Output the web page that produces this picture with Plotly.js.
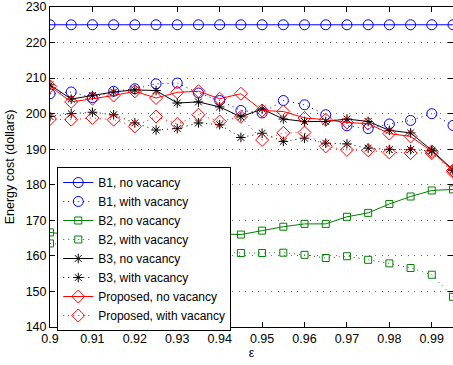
<!DOCTYPE html>
<html>
<head>
<meta charset="utf-8">
<script src="https://cdn.plot.ly/plotly-3.0.1.min.js"></script>
<style>
  html, body { margin: 0; padding: 0; background: #fff; }
  #chart { width: 453px; height: 365px; }
</style>
</head>
<body>
<div id="chart"></div>
<script>
// Tolerance parameter epsilon on the x axis
const epsilon = [0.9, 0.905, 0.91, 0.915, 0.92, 0.925, 0.93, 0.935, 0.94, 0.945,
                 0.95, 0.955, 0.96, 0.965, 0.97, 0.975, 0.98, 0.985, 0.99, 0.995];

// Energy cost (dollars) per scheme
const b1NoVacancy = [225, 225, 225, 225, 225, 225, 225, 225, 225, 225,
                     225, 225, 225, 225, 225, 225, 225, 225, 225, 225];
const b1WithVacancy = [205.6, 206.1, 204.5, 206.3, 207.0, 208.4, 208.6, 205.8, 203.7, 200.9,
                       200.2, 203.7, 202.5, 199.7, 196.6, 195.8, 197.1, 198.1, 200.0, 196.7];
const b2NoVacancy = [166.6, 165.9, 166.3, 165.7, 166.1, 165.8, 166.4, 165.9, 166.2, 166.0,
                     167.1, 168.2, 169.0, 169.0, 171.0, 172.1, 174.6, 176.7, 178.4, 178.7];
const b2WithVacancy = [163.5, 163.0, 162.2, 162.5, 161.6, 161.9, 161.2, 161.4, 160.9, 160.8,
                       160.8, 160.9, 160.3, 159.4, 159.9, 158.9, 157.9, 156.6, 154.7, 148.5];
const b3NoVacancy = [208.1, 204.1, 205.1, 206.1, 206.7, 206.5, 203.0, 203.3, 201.9, 199.1,
                     201.3, 198.5, 197.8, 197.8, 198.5, 197.8, 195.3, 194.6, 189.7, 184.2];
const b3WithVacancy = [199.2, 200.0, 200.4, 199.7, 197.4, 195.4, 195.8, 197.4, 196.9, 193.3,
                       194.5, 192.2, 193.1, 191.7, 191.5, 190.3, 189.9, 189.9, 189.5, 184.0];
const proposedNoVacancy = [207.7, 203.3, 204.2, 205.1, 206.3, 204.4, 206.0, 206.3, 204.2, 205.6,
                           200.9, 200.6, 198.8, 198.3, 197.5, 197.2, 194.4, 193.6, 189.4, 184.0];
const proposedWithVacancy = [198.5, 198.3, 198.8, 198.3, 196.4, 199.2, 197.1, 199.7, 197.8, 199.1,
                             192.6, 194.6, 194.7, 190.8, 189.8, 189.7, 189.1, 188.9, 188.9, 183.6];

const seriesNames = ['B1, no vacancy', 'B1, with vacancy', 'B2, no vacancy', 'B2, with vacancy',
                     'B3, no vacancy', 'B3, with vacancy', 'Proposed, no vacancy', 'Proposed, with vacancy'];

const xTickVals = [0.9, 0.91, 0.92, 0.93, 0.94, 0.95, 0.96, 0.97, 0.98, 0.99];
const xTickText = ['0.9', '0.91', '0.92', '0.93', '0.94', '0.95', '0.96', '0.97', '0.98', '0.99'];
const yTickVals = [140, 150, 160, 170, 180, 190, 200, 210, 220, 230];
const yTickText = ['140', '150', '160', '170', '180', '190', '200', '210', '220', '230'];

const FONT = '"Liberation Sans", Arial, Helvetica, sans-serif';
const DOTTED = '1px,4px';

function series(y, name, color, dash, symbol, size) {
  return {
    x: epsilon, y: y, name: name, type: 'scatter', mode: 'lines+markers',
    line: { color: color, width: 1, dash: dash },
    marker: { symbol: symbol, size: size, color: color, line: { color: color, width: 1 } },
    cliponaxis: true
  };
}

const BLUE = 'rgb(0,0,255)', GREEN = 'rgb(0,128,0)', BLACK = 'rgb(0,0,0)', RED = 'rgb(255,0,0)';

const traces = [
  series(b1NoVacancy, seriesNames[0], BLUE, 'solid', 'circle-open', 10),
  series(b1WithVacancy, seriesNames[1], BLUE, DOTTED, 'circle-open', 10),
  series(b2NoVacancy, seriesNames[2], GREEN, 'solid', 'square-open', 7),
  series(b2WithVacancy, seriesNames[3], GREEN, DOTTED, 'square-open', 7),
  series(b3NoVacancy, seriesNames[4], BLACK, 'solid', 'asterisk-open', 8),
  series(b3WithVacancy, seriesNames[5], BLACK, DOTTED, 'asterisk-open', 8),
  series(proposedNoVacancy, seriesNames[6], RED, 'solid', 'diamond-open', 10),
  series(proposedWithVacancy, seriesNames[7], RED, DOTTED, 'diamond-open', 10)
];

const layout = {
  width: 453, height: 365,
  margin: { l: 50, r: 0, t: 7, b: 38, pad: 0 },
  paper_bgcolor: '#fff', plot_bgcolor: '#fff',
  font: { family: FONT, size: 12.5, color: '#000' },
  showlegend: true,
  legend: {
    x: 0.018, y: 0.5, xanchor: 'left', yanchor: 'top',
    bgcolor: '#fff', bordercolor: '#000', borderwidth: 1,
    font: { family: FONT, size: 12, color: '#000' },
    tracegroupgap: 0
  },
  xaxis: {
    range: [0.9, 0.995], tickmode: 'array', tickvals: xTickVals, ticktext: xTickText,
    ticks: 'inside', ticklen: 5, tickcolor: '#000', tickwidth: 1,
    showline: true, linecolor: '#000', linewidth: 1, mirror: 'ticks',
    showgrid: false, zeroline: false, automargin: false,
    title: { text: 'ε', font: { family: FONT, size: 12.5 }, standoff: 3 }
  },
  yaxis: {
    range: [140, 230], tickmode: 'array', tickvals: yTickVals, ticktext: yTickText,
    ticks: 'inside', ticklen: 5, tickcolor: '#000', tickwidth: 1,
    showline: true, linecolor: '#000', linewidth: 1, mirror: 'ticks',
    showgrid: true, gridcolor: 'rgb(110,110,110)', griddash: '1px,5.5px', gridwidth: 1,
    zeroline: false, automargin: false,
    title: { text: 'Energy cost (dollars)', font: { family: FONT, size: 12.5 }, standoff: 8 }
  }
};

Plotly.newPlot('chart', traces, layout, { staticPlot: true, displayModeBar: false });
</script>
</body>
</html>
